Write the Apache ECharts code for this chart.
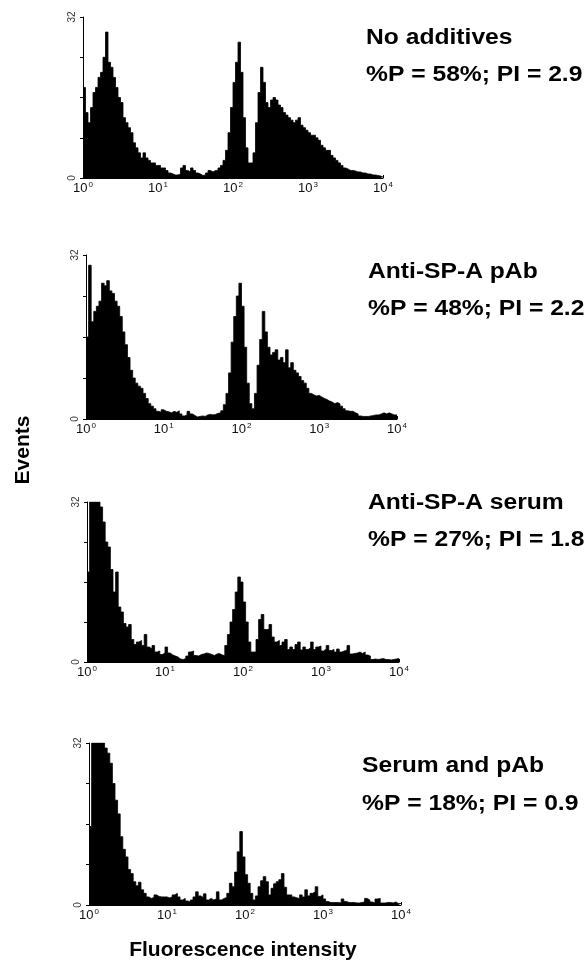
<!DOCTYPE html>
<html><head><meta charset="utf-8">
<script src="https://cdn.jsdelivr.net/npm/echarts@6/dist/echarts.min.js"></script>
<style>html,body{margin:0;padding:0;background:#fff}#c{width:586px;height:973px}</style>
</head><body><div id="c"></div>
<script>
// ---- data ----
const binsPerDecade = 30;
const xTickBase = '10';
const xTickExponents = ['0', '1', '2', '3', '4'];
const yTickLabels = ['0', '32'];
const panelTitles = ['No additives', 'Anti-SP-A pAb', 'Anti-SP-A serum', 'Serum and pAb'];
const panelStats = ['%P = 58%; PI = 2.9', '%P = 48%; PI = 2.2', '%P = 27%; PI = 1.8', '%P = 18%; PI = 0.9'];

const noAdditives = [18,13,11,14,17,18,20,21,24,29, 23,22,20,18,16,15,12,11,10,9, 7,6,5,4,5,4,3.5,3,3,2.5,
  2.5,2,2,1.5,1,0.8,0.6,0.6,0.8,2, 2.5,1.5,1.2,2,1.5,1,0.8,0.5,0.6,1, 1.5,1.2,1.5,1.5,2,2.5,3.5,5.5,9,14,
  19,23,27,21,12,6,3,3,5,11, 17,22,19,15,14,15.5,16,15.5,14.5,14, 13,12.5,12,11.5,11,11.5,12,10.5,10,9.5,
  9,8.5,8.5,8,7.5,6.5,6,5.5,5.5,4.5, 4,3.5,3,2.5,2,1.8,1.5,1.5,1.4,1.2, 1.2,1,1,0.8,0.8,0.6,0.6,0.5,0.4,0.2];
const antiPAb = [16,30,19,21,22,23,26.5,26,27,25, 24.5,23,22,20,17,14.5,12,9.5,8,7, 6.4,6,5,4,3,2.5,2,1.5,1.3,1.8,
  1.5,1.4,1.2,1.5,1.3,1.6,1,0.6,0.8,1.5, 1,0.7,0.4,0.5,0.6,0.5,0.8,0.9,0.8,0.9, 1.1,1.2,1.6,2.8,5,9,15,20,24,26.5,
  22,14,7,3,2,5,10.5,15.5,21,17, 14,12.5,13,13.5,11.5,12,11,13.5,10,11, 9.5,9,8.3,7.5,7,6,5,4.7,4.5,4.6,
  4.3,4,3.8,3.5,3.3,3,3.2,3,2.5,2, 1.6,1.5,1.5,1.2,1,0.6,0.5,0.5,0.5,0.6, 0.7,0.8,0.8,1,1.2,1,1.2,1,0.8,0.8];
const antiSerum = [18,32,32,32,32,31,28,24,23,18.5, 14,18,11,10,7.7,7,7.5,4.5,3.5,4, 4.3,3.3,5.5,3,2.6,3.3,2,2.2,1.5,1.8,
  3,1.8,1.4,1.2,1,0.6,0.5,0.7,1.2,2, 2.2,1.3,1.2,1.5,1.6,1.8,1.7,1.5,1.3,1.6, 1.7,1.4,1.3,3.3,5.5,8,10.5,14,17,16,
  12,8,4,2,2,4.5,8.5,9.5,6.5,6.5, 7.5,5,4,4.3,3.3,4,4.5,2.5,3,2.5, 3.5,4,2.4,3,2.5,2.8,4,2.5,3,3.2,
  2.2,2.6,3.3,2.3,2.5,2,2.6,2,2.2,2.4, 3.3,1.6,1.7,1.8,2,1.7,2,1.4,1.2,0.5, 0.6,0.5,0.6,0.7,0.5,0.5,0.4,0.5,0.6,0.7];
const serumPAb = [15.5,32,32,32,32,32,31,30,28,24, 20.7,18,13.5,11,9.5,7,6.2,4.6,3.8,4.5, 3,2.3,1.6,1.3,1.5,2,1.7,1.6,1.6,1.6,
  1.4,1.6,2,2.3,1.6,1,1.3,0.8,0.6,1, 1.6,2.6,1.8,1.5,2.2,1,1.3,1,1.2,2.6, 1,1.3,1.5,2.3,4.3,3.6,6.5,10.5,14.5,9.5,
  6,4.3,2.3,1,1.8,3.6,4.8,5.6,4.6,2, 3.3,4.2,4.6,5,6.2,3.5,2,2,1.6,1.4, 1.3,2,1.6,3,1.8,2.3,2.6,3.6,1.7,2,
  1.2,0.7,0.5,0.5,0.5,0.5,0.4,1.2,0.7,0.5, 0.5,0.5,0.4,0.4,0.5,0.6,1.3,1,0.6,0.4, 1.2,1.3,0.4,0.4,0.5,0.5,0.4,0.6,0.3,0.3];

const panels = [noAdditives, antiPAb, antiSerum, serumPAb];

// ---- layout ----
const grids = [
  {left: 83, top: 17, width: 300, height: 161},
  {left: 86, top: 255, width: 311, height: 164},
  {left: 87, top: 502, width: 312, height: 160},
  {left: 89, top: 743, width: 312, height: 162}
];
const textPos = [
  {x: 366, y1: 38, y2: 75},
  {x: 368, y1: 272, y2: 309},
  {x: 368, y1: 503, y2: 540},
  {x: 362, y1: 766, y2: 804}
];

function toSeriesData(arr) {
  const d = arr.map((v, i) => [i / binsPerDecade, v]);
  d.push([arr.length / binsPerDecade, arr[arr.length - 1]]);
  return d;
}

const option = {
  animation: false,
  backgroundColor: '#fff',
  grid: grids.map(g => Object.assign({containLabel: false}, g)),
  xAxis: grids.map((g, k) => ({
    gridIndex: k, type: 'value', min: 0, max: 4, interval: 1,
    axisLine: {show: true, lineStyle: {color: '#000', width: 1}},
    axisTick: {show: true, inside: true, length: 3, lineStyle: {color: '#000'}},
    splitLine: {show: false},
    axisLabel: {
      formatter: v => (xTickExponents[v] !== undefined ? '{b|' + xTickBase + '}{s|' + xTickExponents[v] + '}' : ''),
      margin: 3,
      rich: {
        b: {fontSize: 13, color: '#111', fontFamily: 'Liberation Sans', lineHeight: 14},
        s: {fontSize: 8, color: '#111', fontFamily: 'Liberation Sans', verticalAlign: 'top', lineHeight: 14, padding: [0, 0, 5, 1]}
      }
    }
  })),
  yAxis: grids.map((g, k) => ({
    gridIndex: k, type: 'value', min: 0, max: 32, interval: 8,
    axisLine: {show: true, lineStyle: {color: '#000', width: 1}},
    axisTick: {show: true, length: 3, lineStyle: {color: '#000'}},
    splitLine: {show: false},
    axisLabel: {formatter: v => (v === 0 ? yTickLabels[0] : v === 32 ? yTickLabels[1] : ''),
      rotate: 90, fontSize: 10, color: '#333', fontFamily: 'Liberation Sans', margin: 6}
  })),
  series: panels.map((arr, k) => ({
    type: 'line', xAxisIndex: k, yAxisIndex: k, step: 'end', symbol: 'none',
    data: toSeriesData(arr),
    lineStyle: {color: '#000', width: 0.8},
    areaStyle: {color: '#000', opacity: 1},
    clip: true
  })),
  graphic: [].concat(
    ...textPos.map((p, k) => [
      {type: 'text', x: p.x, y: p.y1, scaleX: 1.12,
        style: {text: panelTitles[k], font: 'bold 22px "Liberation Sans"', fill: '#000', textVerticalAlign: 'middle'}},
      {type: 'text', x: p.x, y: p.y2, scaleX: 1.12,
        style: {text: panelStats[k], font: 'bold 22px "Liberation Sans"', fill: '#000', textVerticalAlign: 'middle'}}
    ]),
    [
      {type: 'text', x: 23, y: 450, rotation: Math.PI / 2,
        style: {text: 'Events', font: 'bold 21px "Liberation Sans"', fill: '#000', textAlign: 'center', textVerticalAlign: 'middle'}},
      {type: 'text', x: 243, y: 950,
        style: {text: 'Fluorescence intensity', font: 'bold 21px "Liberation Sans"', fill: '#000', textAlign: 'center', textVerticalAlign: 'middle'}}
    ]
  )
};

const chart = echarts.init(document.getElementById('c'), null, {renderer: 'canvas'});
chart.setOption(option);
</script>
</body></html>
